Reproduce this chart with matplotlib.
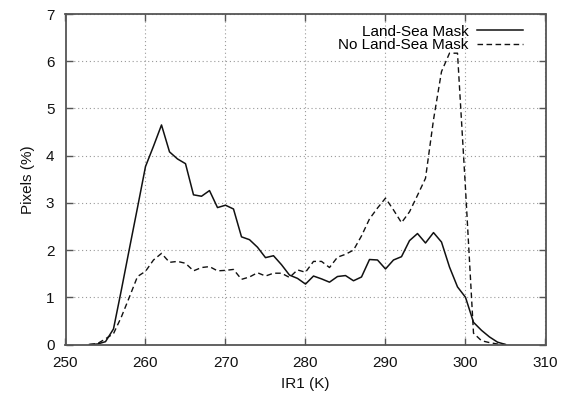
import matplotlib
matplotlib.use("Agg")
import matplotlib.pyplot as plt
import numpy as np

temps = list(range(253, 306))
land_sea_mask = [
    0.0, 0.01, 0.06, 0.33, 1.17, 2.04, 2.90, 3.77, 4.20, 4.65,   # 253-262
    4.08, 3.93, 3.83, 3.17, 3.14, 3.26, 2.90, 2.95, 2.87, 2.28,  # 263-272
    2.22, 2.06, 1.84, 1.88, 1.69, 1.47, 1.40, 1.28, 1.45, 1.39,  # 273-282
    1.32, 1.44, 1.46, 1.35, 1.43, 1.80, 1.79, 1.60, 1.79, 1.86,  # 283-292
    2.20, 2.35, 2.15, 2.37, 2.17, 1.64, 1.22, 1.00, 0.47, 0.30,  # 293-302
    0.16, 0.05, 0.0,                                             # 303-305
]
no_land_sea_mask = [
    0.0, 0.02, 0.12, 0.23, 0.59, 1.01, 1.44, 1.55, 1.79, 1.93,   # 253-262
    1.74, 1.76, 1.72, 1.56, 1.63, 1.65, 1.56, 1.57, 1.59, 1.38,  # 263-272
    1.43, 1.52, 1.45, 1.51, 1.51, 1.42, 1.58, 1.53, 1.76, 1.76,  # 273-282
    1.63, 1.85, 1.91, 2.00, 2.30, 2.66, 2.89, 3.10, 2.85, 2.58,  # 283-292
    2.81, 3.16, 3.52, 4.76, 5.78, 6.17, 6.17, 3.30, 0.24, 0.08,  # 293-302
    0.04, 0.01, 0.0,                                             # 303-305
]
xticks = [250, 260, 270, 280, 290, 300, 310]
yticks = [0, 1, 2, 3, 4, 5, 6, 7]

plt.rcParams['font.family'] = ['Liberation Sans', 'DejaVu Sans']
fs = 11

fig = plt.figure(figsize=(5.70, 3.94), dpi=100)
ax = fig.add_axes([65.5/570, 1 - 344.5/394, 480/570, 330.5/394])

ax.plot(temps, land_sea_mask, color='#111111', lw=1.1, ls='-', label='Land-Sea Mask')
ax.plot(temps, no_land_sea_mask, color='#111111', lw=1.0, ls=(0, (4, 2.5)), label='No Land-Sea Mask')

ax.set_xlim(250, 310)
ax.set_ylim(0, 7)
ax.set_xticks(xticks)
ax.set_yticks(yticks)
ax.tick_params(direction='in', length=5, width=1, color='#555555', top=True, right=True,
               labelsize=fs, labelcolor='#111111')
ax.tick_params(axis='x', pad=8)
ax.tick_params(axis='y', pad=8)
ax.grid(True, color='#999999', ls=(0, (1, 2.5)), lw=0.8)
for s in ax.spines.values():
    s.set_color('#555555')
    s.set_linewidth(1.3)

ax.set_xlabel('IR1 (K)', fontsize=fs, color='#111111', labelpad=5)
ax.set_ylabel('Pixels (%)', fontsize=fs, color='#111111', labelpad=8)

leg = ax.legend(loc='upper right', frameon=False, markerfirst=False, fontsize=fs,
                handlelength=3.0, handletextpad=0.6, labelspacing=-0.05,
                borderaxespad=0.3, bbox_to_anchor=(0.976, 1.0))

fig.savefig('out.png', dpi=100)
